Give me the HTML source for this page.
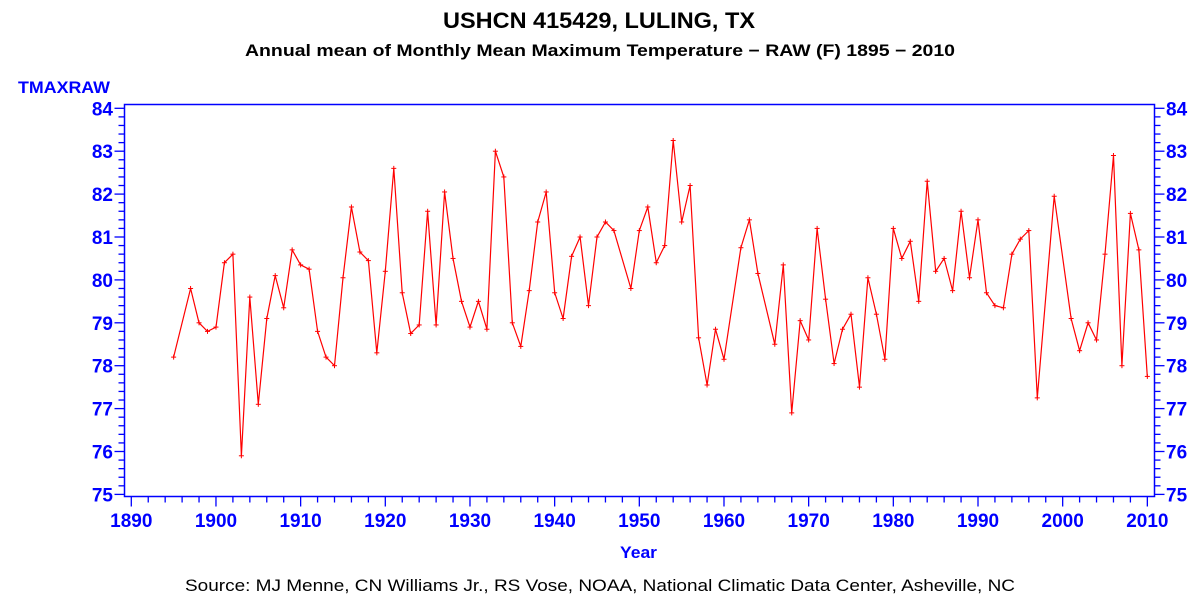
<!DOCTYPE html>
<html><head><meta charset="utf-8"><style>
html,body{margin:0;padding:0;background:#fff;width:1201px;height:601px;overflow:hidden}
svg{display:block;font-family:"Liberation Sans",Arial,sans-serif}
</style></head><body>
<svg id="s" width="1201" height="601" viewBox="0 0 1201 601" xmlns="http://www.w3.org/2000/svg">
<text x="443" y="28" textLength="312" lengthAdjust="spacingAndGlyphs" font-size="22" font-weight="bold" fill="#000">USHCN 415429, LULING, TX</text>
<text x="245" y="56" textLength="710" lengthAdjust="spacingAndGlyphs" font-size="16.5" font-weight="bold" fill="#000">Annual mean of Monthly Mean Maximum Temperature − RAW (F) 1895 − 2010</text>
<text x="18" y="93" textLength="92" lengthAdjust="spacingAndGlyphs" font-size="17" font-weight="bold" fill="#0000ff">TMAXRAW</text>
<text x="620" y="558" textLength="37" lengthAdjust="spacingAndGlyphs" font-size="17" font-weight="bold" fill="#0000ff">Year</text>
<text x="185" y="591" textLength="830" lengthAdjust="spacingAndGlyphs" font-size="17" fill="#000">Source: MJ Menne, CN Williams Jr., RS Vose, NOAA, National Climatic Data Center, Asheville, NC</text>
<rect x="124.5" y="104.5" width="1030" height="392" fill="none" stroke="#0000ff" stroke-width="1.5"/>
<g id="ax" stroke="#0000ff" stroke-width="1.3"></g>
<g id="lb" fill="#0000ff" font-size="19" font-weight="bold"></g>
<polyline id="pl" fill="none" stroke="#ff0000" stroke-width="1.2"/>
<g id="mk" stroke="#ff0000" stroke-width="1"></g>
</svg>
<script>
var NS="http://www.w3.org/2000/svg";
function X(y){return 131.3+(y-1890)*8.467;}
function Y(v){return 108.3+(84-v)*42.9;}
function el(p,t,a,txt){var e=document.createElementNS(NS,t);for(var k in a)e.setAttribute(k,a[k]);if(txt!=null)e.textContent=txt;document.getElementById(p).appendChild(e);}
for(var v=75;v<=84.001;v+=0.2){var y=Y(v);var maj=Math.abs(v-Math.round(v))<0.01;var L=maj?10:6;
el("ax","line",{x1:124.5-L,x2:124.5,y1:y,y2:y});el("ax","line",{x1:1154.5,x2:1154.5+L,y1:y,y2:y});}
for(var v=75;v<=84;v++){el("lb","text",{x:113,y:Y(v)+7,"text-anchor":"end"},v);el("lb","text",{x:1166,y:Y(v)+7},v);}
for(var yr=1890;yr<=2010;yr+=2){var x=X(yr);var maj=yr%10==0;el("ax","line",{x1:x,x2:x,y1:496.5,y2:496.5+(maj?10:6)});}
for(var yr=1890;yr<=2010;yr+=10){el("lb","text",{x:X(yr),y:527,"text-anchor":"middle"},yr);}
var d={1895:78.2,1897:79.8,1898:79.0,1899:78.8,1900:78.9,1901:80.4,1902:80.6,1903:75.9,1904:79.6,1905:77.1,1906:79.1,1907:80.1,1908:79.35,1909:80.7,1910:80.35,1911:80.25,1912:78.8,1913:78.2,1914:78.0,1915:80.05,1916:81.7,1917:80.65,1918:80.45,1919:78.3,1920:80.2,1921:82.6,1922:79.7,1923:78.75,1924:78.95,1925:81.6,1926:78.95,1927:82.05,1928:80.5,1929:79.5,1930:78.9,1931:79.5,1932:78.85,1933:83.0,1934:82.4,1935:79.0,1936:78.45,1937:79.75,1938:81.35,1939:82.05,1940:79.7,1941:79.1,1942:80.55,1943:81.0,1944:79.4,1945:81.0,1946:81.35,1947:81.15,1949:79.8,1950:81.15,1951:81.7,1952:80.4,1953:80.8,1954:83.25,1955:81.35,1956:82.2,1957:78.65,1958:77.55,1959:78.85,1960:78.15,1962:80.75,1963:81.4,1964:80.15,1966:78.5,1967:80.35,1968:76.9,1969:79.05,1970:78.6,1971:81.2,1972:79.55,1973:78.05,1974:78.85,1975:79.2,1976:77.5,1977:80.05,1978:79.2,1979:78.15,1980:81.2,1981:80.5,1982:80.9,1983:79.5,1984:82.3,1985:80.2,1986:80.5,1987:79.75,1988:81.6,1989:80.05,1990:81.4,1991:79.7,1992:79.4,1993:79.35,1994:80.6,1995:80.95,1996:81.15,1997:77.25,1999:81.95,2001:79.1,2002:78.35,2003:79.0,2004:78.6,2005:80.6,2006:82.9,2007:78.0,2008:81.55,2009:80.7,2010:77.75};
var pts=[];for(var k in d){var x=X(+k),y=Y(d[k]);pts.push(x.toFixed(1)+","+y.toFixed(1));
el("mk","line",{x1:x-2.5,x2:x+2.5,y1:y,y2:y});el("mk","line",{x1:x,x2:x,y1:y-2.5,y2:y+2.5});}
document.getElementById("pl").setAttribute("points",pts.join(" "));
</script>
</body></html>
